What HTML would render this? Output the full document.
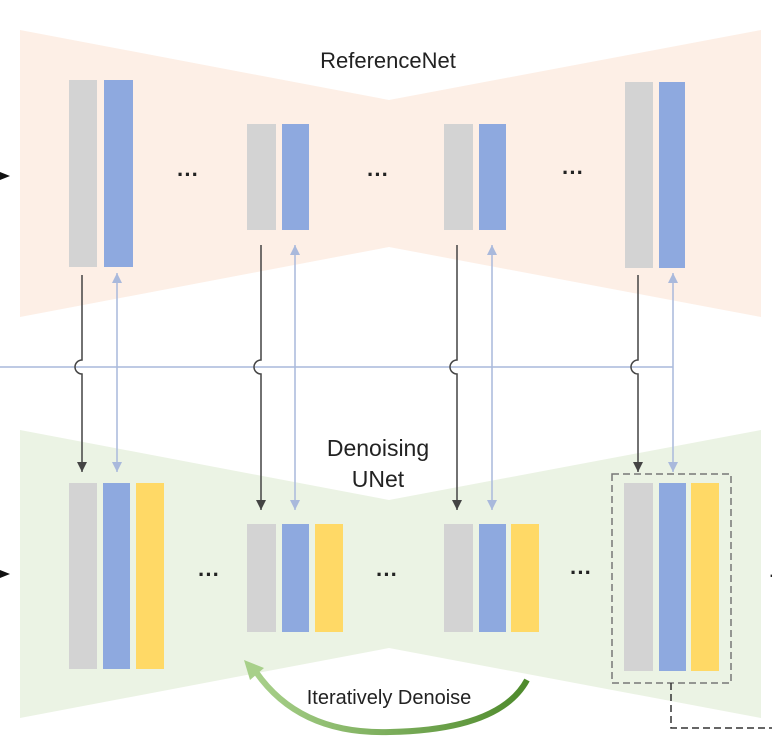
<!DOCTYPE html>
<html><head><style>html,body{margin:0;padding:0;background:#fff;}svg{display:block}</style></head>
<body>
<svg width="772" height="753" viewBox="0 0 772 753" xmlns="http://www.w3.org/2000/svg" font-family="Liberation Sans, sans-serif">
<defs>
<marker id="ad" markerWidth="10" markerHeight="10" refX="10" refY="5" orient="auto-start-reverse" markerUnits="userSpaceOnUse"><path d="M0,0 L10,5 L0,10 Z" fill="#444"/></marker>
<marker id="al" markerWidth="10" markerHeight="10" refX="10" refY="5" orient="auto-start-reverse" markerUnits="userSpaceOnUse"><path d="M0,0 L10,5 L0,10 Z" fill="#a9b9dc"/></marker>
<linearGradient id="g" x1="0" x2="1"><stop offset="0" stop-color="#a8d08a"/><stop offset="1" stop-color="#4e8a2c"/></linearGradient>
</defs>
<polygon points="20,30 389,100 761,30 761,317 389,247 20,317" fill="#fdefe6"/>
<polygon points="20,430 389,500 761,430 761,718 389,648 20,718" fill="#ebf3e4"/>
<text x="388" y="68" font-size="22" text-anchor="middle" fill="#222">ReferenceNet</text>
<text x="378" y="456" font-size="23" text-anchor="middle" fill="#222">Denoising</text>
<text x="378" y="487" font-size="23" text-anchor="middle" fill="#222">UNet</text>
<g fill="#d3d3d3">
<rect x="69" y="80" width="28" height="187"/><rect x="247" y="124" width="29" height="106"/><rect x="444" y="124" width="29" height="106"/><rect x="625" y="82" width="28" height="186"/>
<rect x="69" y="483" width="28" height="186"/><rect x="247" y="524" width="29" height="108"/><rect x="444" y="524" width="29" height="108"/><rect x="624" y="483" width="29" height="188"/>
</g>
<g fill="#8ea9df">
<rect x="104" y="80" width="29" height="187"/><rect x="282" y="124" width="27" height="106"/><rect x="479" y="124" width="27" height="106"/><rect x="659" y="82" width="26" height="186"/>
<rect x="103" y="483" width="27" height="186"/><rect x="282" y="524" width="27" height="108"/><rect x="479" y="524" width="27" height="108"/><rect x="659" y="483" width="27" height="188"/>
</g>
<g fill="#ffd966">
<rect x="136" y="483" width="28" height="186"/><rect x="315" y="524" width="28" height="108"/><rect x="511" y="524" width="28" height="108"/><rect x="691" y="483" width="28" height="188"/>
</g>
<g font-size="22" fill="#222" text-anchor="middle" font-weight="bold">
<text x="188" y="182">···</text><text x="378" y="182">···</text><text x="573" y="180">···</text>
<text x="209" y="582">···</text><text x="387" y="582">···</text><text x="581" y="580">···</text>
</g>
<text x="768" y="582" font-size="22" fill="#222">·</text>
<line x1="0" y1="367" x2="673" y2="367" stroke="#a9b9dc" stroke-width="1.5"/>
<g stroke="#a9b9dc" stroke-width="1.5" fill="none" marker-start="url(#al)" marker-end="url(#al)">
<line x1="117" y1="273" x2="117" y2="472"/><line x1="295" y1="245" x2="295" y2="510"/><line x1="492" y1="245" x2="492" y2="510"/><line x1="673" y1="273" x2="673" y2="472"/>
</g>
<g stroke="#444" stroke-width="1.5" fill="none" marker-end="url(#ad)">
<path d="M82,275 V360 A7,7 0 0 0 82,374 V472"/><path d="M261,245 V360 A7,7 0 0 0 261,374 V510"/><path d="M457,245 V360 A7,7 0 0 0 457,374 V510"/><path d="M638,275 V360 A7,7 0 0 0 638,374 V472"/>
</g>
<g fill="#111"><path d="M0,172 L10,176 L0,180 Z"/><path d="M0,570 L10,574 L0,578 Z"/></g>
<rect x="612" y="474" width="119" height="209" fill="none" stroke="#777" stroke-width="1.5" stroke-dasharray="7,4"/>
<path d="M671,683 V728 H772" fill="none" stroke="#333" stroke-width="1.5" stroke-dasharray="7,4"/>
<path d="M256,672 Q300,735 390,732 Q500,730 527,680" fill="none" stroke="url(#g)" stroke-width="6"/>
<path d="M244,660 L264,668 L250,680 Z" fill="#a8d08a"/>
<text x="389" y="704" font-size="20" text-anchor="middle" fill="#222">Iteratively Denoise</text>
</svg>
</body></html>
